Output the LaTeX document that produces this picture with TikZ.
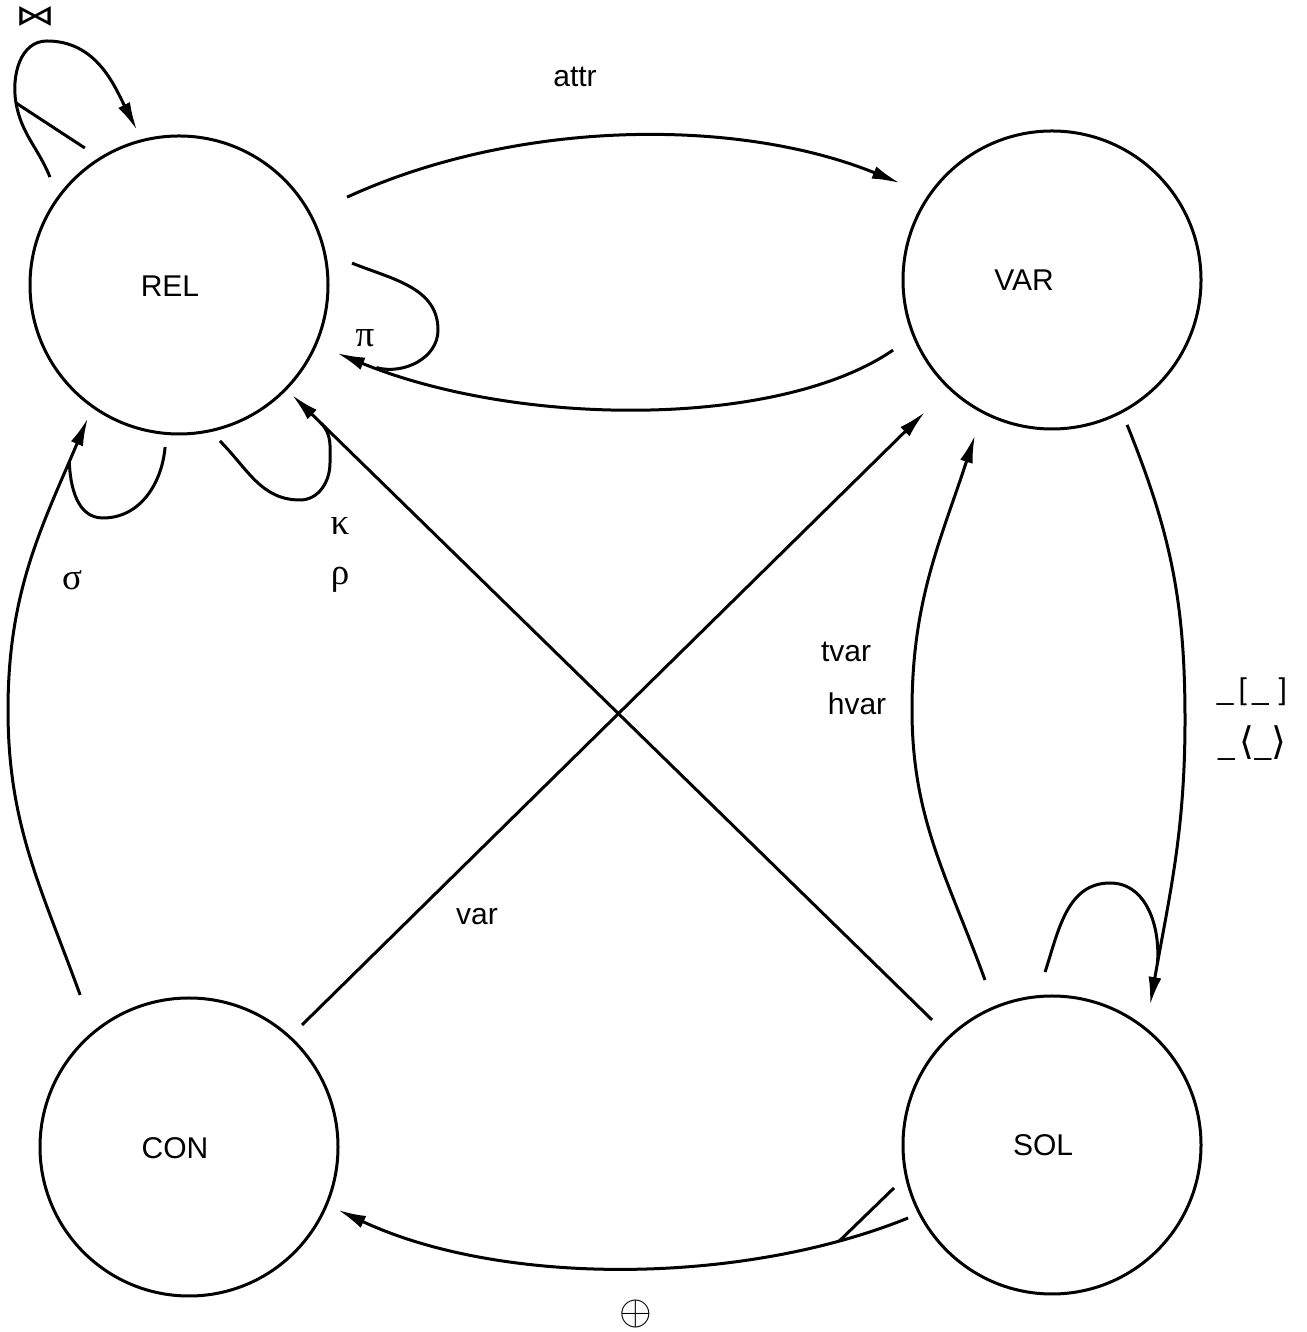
\documentclass[tikz,border=0pt]{standalone}
\usepackage{fontspec}
\usepackage{graphicx}
\setmainfont{Liberation Sans}
\newfontfamily\grk{Liberation Serif}
\newfontfamily\djv{DejaVu Sans}
\usetikzlibrary{arrows.meta,calc}
\begin{document}
\begin{tikzpicture}[x=1pt,y=1pt,line width=3pt,
  >={Latex[length=28pt,width=13pt]},
  state/.style={circle,draw,minimum size=298pt,inner sep=0pt},
  lbl/.style={font=\fontsize{30}{36}\selectfont,inner sep=0pt,anchor=base},
  glbl/.style={font=\fontsize{37}{40}\selectfont\grk,inner sep=0pt,anchor=base},
  sym/.style={font=\fontsize{30}{36}\selectfont,inner sep=0pt}]
\useasboundingbox (0,0) rectangle (1306,1332);
% states
\node[state] (rel) at (179,1047) {};
\node[state] (var) at (1052,1052) {};
\node[state] (con) at (189,185) {};
\node[state] (sol) at (1052,187) {};
\node[lbl] (reltxt) at (170,1035) {REL};
\node[lbl] (vartxt) at (1024,1041) {VAR};
\node[lbl] (contxt) at (175,173) {CON};
\node[lbl] (soltxt) at (1043,176) {SOL};
% REL -> VAR
\draw[->] ($(rel)+(27.6:189.6)$) .. controls (520,1214) and (740,1214) .. ($(var)+(147.5:180.3)$);
\node[lbl] (lattr) at (575,1245) {attr};
% VAR -> REL with pi loop
\draw[->] ($(var)+(203.8:173.7)$) .. controls (780,904) and (520,904) .. ($(rel)+(-23.3:172)$) coordinate[pos=0.93] (pim);
\draw ($(rel)+(7.2:174.4)$) to[out=-22,in=90] (438,1002) to[out=-90,in=-15] (pim);
\node[glbl] (lpi) at (365,985) {π};
% join loop
\coordinate (jm) at (16,1229);
\draw[->] ($(rel)+(140.1:168.2)$) to[out=112,in=-80] (jm) to[out=100,in=180] (47,1291) to[out=0,in=117] ($(rel)+(105.2:160.6)$);
\draw ($(rel)+(124.5:166.2)$) -- (jm);
\node[sym,font=\fontsize{40}{40}\selectfont\djv] (ljoin) at (36,1316) {\scalebox{1}[0.72]{⋈}};
% CON -> REL with sigma loop
\draw[->] ($(con)+(125.6:187)$) to[out=110,in=-90] (8,622) to[out=90,in=-113] coordinate[pos=0.86] (sig) ($(rel)+(235.6:161.2)$);
\draw ($(rel)+(265.1:162.6)$) to[out=-95,in=0] (103,814) to[out=180,in=-88] (sig);
\node[glbl] (lsig) at (72,742) {σ};
% SOL -> REL with kappa/rho loop
\draw[->] ($(sol)+(133.8:173.3)$) -- ($(rel)+(-44.2:157.7)$) coordinate[pos=0.955] (kap);
\draw ($(rel)+(-75.3:161.3)$) to[out=-45,in=180] (300,832) to[out=0,in=-90] (330,869) to[out=90,in=-45] (kap);
\node[glbl] (lkap) at (340,797) {κ};
\node[glbl] (lrho) at (340,747) {ρ};
% CON -> VAR
\draw[->] ($(con)+(47.2:166.3)$) -- ($(var)+(226.1:183.2)$);
\node[lbl] (lvar) at (477,407) {var};
% SOL -> VAR
\draw[->] ($(sol)+(112.1:178.1)$) to[out=110,in=-90] (912,622) to[out=90,in=-108] ($(var)+(243.6:173.1)$);
\node[lbl] (ltvar) at (846,670) {tvar};
\node[lbl] (lhvar) at (857,617) {hvar};
% VAR -> SOL with self loop
\draw[->] ($(var)+(-62.6:163.2)$) to[out=-68,in=90] (1185,612) to[out=-90,in=80] coordinate[pos=0.87] (slm) ($(sol)+(55:170.9)$);
\draw ($(sol)+(92.3:173.1)$) to[out=72,in=180] (1110,449) to[out=0,in=85] (slm);
\node[sym] (lsub) at (1252,640) {\_\,[\,\_\,\,]};
\node[sym] (lang) at (1252,589) {\_\,{\djv\fontsize{38}{40}\selectfont ⟨}\_{\djv\fontsize{38}{40}\selectfont ⟩}};
% SOL -> CON
\draw[->] ($(sol)+(206.9:161.4)$) .. controls (740,46) and (500,46) .. ($(con)+(-22.9:161.8)$) coordinate[pos=0.13] (om);
\draw ($(sol)+(195.2:163.7)$) -- (om);
\node[inner sep=0pt] (loplus) at (636,18) {\scalebox{4.2}{$\oplus$}};
\end{tikzpicture}
\end{document}
